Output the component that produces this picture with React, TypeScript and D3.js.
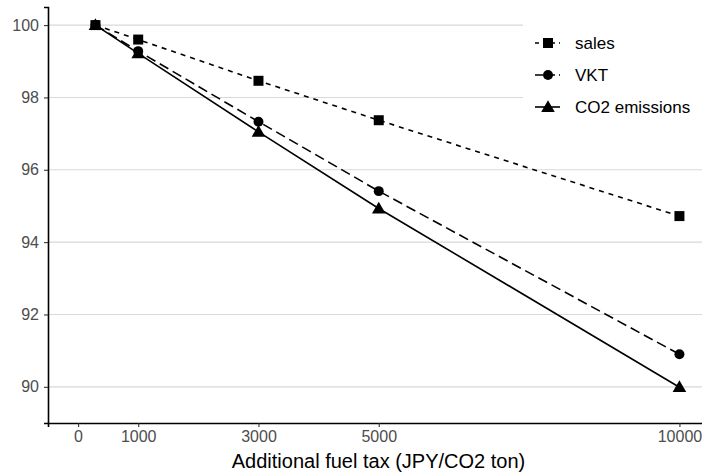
import { useEffect, useRef } from 'react';
import * as d3 from 'd3';

// data
const taxLevels = [289, 1000, 3000, 5000, 10000];
const salesValues = [100, 99.6, 98.46, 97.37, 94.72];
const vktValues = [100, 99.28, 97.33, 95.41, 90.9];
const co2Values = [100, 99.22, 97.05, 94.93, 89.99];
const xTicks = [0, 1000, 3000, 5000, 10000];
const yTicks = [90, 92, 94, 96, 98, 100];
const seriesNames = ['sales', 'VKT', 'CO2 emissions'];

const WIDTH = 702;
const HEIGHT = 476;

export default function App() {
    const svgRef = useRef<SVGSVGElement>(null);

    useEffect(() => {
        if (!svgRef.current) return;
        const svg = d3.select(svgRef.current);
        svg.selectAll('*').remove();

        const font = '"Liberation Sans", Arial, Helvetica, sans-serif';
        const x = d3.scaleLinear().domain([-500, 10500]).range([48, 709.5]);
        const y = d3.scaleLinear().domain([89, 100.5]).range([423, 7]);

        // horizontal grid
        svg.append('g')
            .selectAll('line')
            .data(yTicks)
            .join('line')
            .attr('x1', 48)
            .attr('x2', WIDTH)
            .attr('y1', d => y(d))
            .attr('y2', d => y(d))
            .attr('stroke', '#d9d9d9')
            .attr('stroke-width', 1.1);

        // y axis
        const yAxis = svg.append('g')
            .attr('transform', 'translate(48,0)')
            .call(d3.axisLeft(y).tickValues(yTicks).tickSize(4).tickPadding(5));
        yAxis.select('.domain').attr('stroke', '#000').attr('stroke-width', 1.6);
        yAxis.selectAll('.tick line').attr('stroke', '#333').attr('stroke-width', 1.1);
        yAxis.selectAll('.tick text')
            .attr('fill', '#4d4d4d')
            .style('font-family', font)
            .style('font-size', '16px');

        // x axis
        const xAxis = svg.append('g')
            .attr('transform', 'translate(0,423)')
            .call(d3.axisBottom(x).tickValues(xTicks).tickFormat(d3.format('d')).tickSize(4).tickPadding(4));
        xAxis.select('.domain').attr('stroke', '#000').attr('stroke-width', 1.6);
        xAxis.selectAll('.tick line').attr('stroke', '#333').attr('stroke-width', 1.1);
        xAxis.selectAll('.tick text')
            .attr('fill', '#4d4d4d')
            .style('font-family', font)
            .style('font-size', '16px');

        svg.append('text')
            .attr('x', 378.5)
            .attr('y', 468)
            .attr('text-anchor', 'middle')
            .style('font-family', font)
            .style('font-size', '20px')
            .attr('fill', '#000')
            .text('Additional fuel tax (JPY/CO2 ton)');

        const series = [
            { name: seriesNames[0], values: salesValues, dash: '5,5', shape: 'square' },
            { name: seriesNames[1], values: vktValues, dash: '10,5', shape: 'circle' },
            { name: seriesNames[2], values: co2Values, dash: null, shape: 'triangle' },
        ];

        const line = d3.line<[number, number]>()
            .x(d => x(d[0]))
            .y(d => y(d[1]));

        const symbolOf = (shape: string) => {
            if (shape === 'square') return d3.symbol().type(d3.symbolSquare).size(100)();
            if (shape === 'circle') return d3.symbol().type(d3.symbolCircle).size(78)();
            return d3.symbol().type(d3.symbolTriangle).size(80)();
        };

        series.forEach(s => {
            const pts = taxLevels.map((t, i) => [t, s.values[i]] as [number, number]);
            svg.append('path')
                .attr('d', line(pts))
                .attr('fill', 'none')
                .attr('stroke', '#000')
                .attr('stroke-width', 1.6)
                .attr('stroke-dasharray', s.dash);
            svg.append('g')
                .selectAll('path')
                .data(pts)
                .join('path')
                .attr('d', symbolOf(s.shape))
                .attr('transform', d => `translate(${x(d[0])},${y(d[1]) + (s.shape === 'triangle' ? 1 : 0)})`)
                .attr('fill', '#000');
        });

        // legend
        const legend = svg.append('g').attr('transform', 'translate(523,20)');
        legend.append('rect')
            .attr('width', 179)
            .attr('height', 106)
            .attr('fill', '#fff');
        series.forEach((s, i) => {
            const ly = 23 + i * 32;
            legend.append('line')
                .attr('x1', 12)
                .attr('x2', 37)
                .attr('y1', ly)
                .attr('y2', ly)
                .attr('stroke', '#000')
                .attr('stroke-width', 1.6)
                .attr('stroke-dasharray', s.dash ? (i === 0 ? '4,4' : '8,4') : null);
            legend.append('path')
                .attr('d', symbolOf(s.shape))
                .attr('transform', `translate(25,${ly + (s.shape === 'triangle' ? 1 : 0)})`)
                .attr('fill', '#000');
            legend.append('text')
                .attr('x', 52)
                .attr('y', ly + 6)
                .style('font-family', font)
                .style('font-size', '17px')
                .attr('fill', '#000')
                .text(s.name);
        });
    }, []);

    return (
        <svg
            ref={svgRef}
            width={WIDTH}
            height={HEIGHT}
            style={{ position: 'absolute', left: 0, top: 0, background: '#fff' }}
        ></svg>
    );
}
